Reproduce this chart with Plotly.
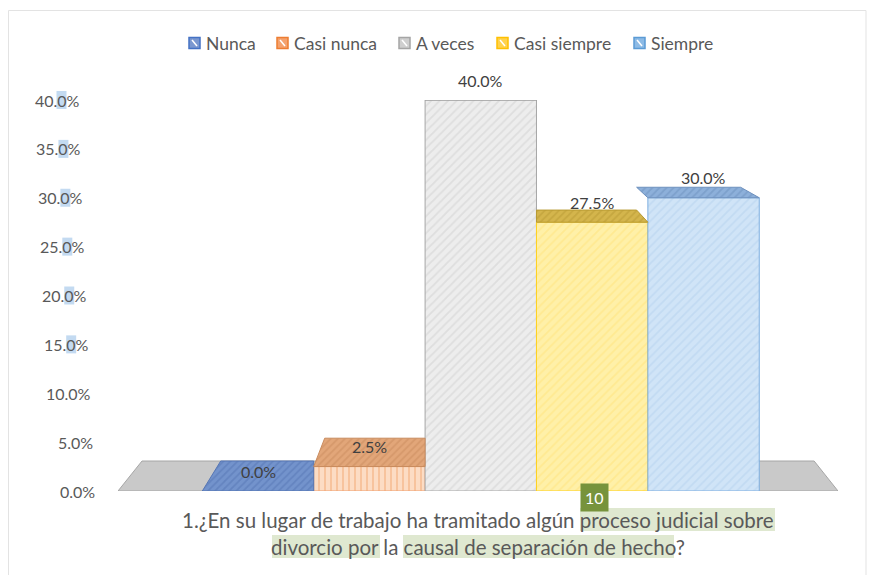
import plotly.graph_objects as go

# ---- data ----
categories = ["Nunca", "Casi nunca", "A veces", "Casi siempre", "Siempre"]
values = [0.0, 0.025, 0.40, 0.275, 0.30]
value_labels = ["0.0%", "2.5%", "40.0%", "27.5%", "30.0%"]
y_ticks = [0.0, 0.05, 0.10, 0.15, 0.20, 0.25, 0.30, 0.35, 0.40]
y_tick_labels = ["0.0%", "5.0%", "10.0%", "15.0%", "20.0%", "25.0%", "30.0%", "35.0%", "40.0%"]
question_line1 = "1.¿En su lugar de trabajo ha tramitado algún proceso judicial sobre"
question_line2 = "divorcio por la causal de separación de hecho?"

# ---- style ----
FONT = "Lato"
TXT = "#595959"
front_bg = ["#6f8fc8", "#fcdcc4", "#ededed", "#fff0a8", "#d0e4f7"]
front_fg = ["#4a6fb0", "#f2a46c", "#cfcfcf", "#ffe27a", "#b3d0ee"]
front_shape = ["/", "|", "/", "/", "/"]
front_line = ["#4a6fb0", "#f0a070", "#a6a6a6", "#ffd21f", "#7eaee0"]
top_bg = ["#7393cc", "#e2a679", "#b5b5b5", "#d4b54c", "#8db0da"]
top_fg = ["#5676b4", "#c98b5e", "#999999", "#b89a33", "#6e91be"]
legend_fill = ["#7b98d0", "#f4a26e", "#cfcfcf", "#ffd24d", "#8dbbe6"]
legend_edge = ["#4472c4", "#ed7d31", "#a5a5a5", "#ffc000", "#5b9bd5"]

X_RANGE = [-1.257, 5.207]
Y_RANGE = [0, 0.40]
VANISH_X, VANISH_Y, DEPTH = 1.984, 0.4614, 0.0665

# page-pixel layout of the plot area (page has an 8px body margin)
PAGE_OFF = 8
PL, PR, PT, PB = 118, 838, 100, 491


def px(xp):
    return (xp - PL) / (PR - PL)


def py(yp):
    return (PB - yp) / (PB - PT)


fig = go.Figure()

# front faces (bars)
for i, (cat, v) in enumerate(zip(categories, values)):
    fig.add_trace(go.Bar(
        x=[i], y=[v], width=1.0, name=cat,
        marker=dict(color=front_bg[i],
                    line=dict(color=front_line[i], width=1),
                    pattern=dict(shape=front_shape[i], fgcolor=front_fg[i],
                                 bgcolor=front_bg[i], size=6, solidity=0.3)),
        hoverinfo="skip", showlegend=False,
    ))

# top faces (perspective)
n = len(values)
for i, v in enumerate(values):
    xl, xr = i - 0.5, i + 0.5
    bxl = xl + DEPTH * (VANISH_X - xl)
    bxr = xr + DEPTH * (VANISH_X - xr)
    by = v + DEPTH * (VANISH_Y - v)
    if i > 0 and values[i - 1] > v:
        bxl = max(bxl, xl)
    if i < n - 1 and values[i + 1] > v:
        bxr = min(bxr, xr)
    fig.add_trace(go.Scatter(
        x=[xl, xr, bxr, bxl, xl], y=[v, v, by, by, v],
        mode="lines", fill="toself", fillcolor=top_bg[i],
        fillpattern=dict(shape="/", fgcolor=top_fg[i], bgcolor=top_bg[i],
                         size=5, solidity=0.35),
        line=dict(color=top_fg[i], width=1),
        hoverinfo="skip", showlegend=False,
    ))

# floor
fx0, fx1 = X_RANGE
fby = DEPTH * VANISH_Y
bfx0 = fx0 + DEPTH * (VANISH_X - fx0)
bfx1 = fx1 + DEPTH * (VANISH_X - fx1)
fig.add_shape(type="path", xref="x", yref="y", layer="below",
              path=f"M {fx0},0 L {fx1},0 L {bfx1},{fby} L {bfx0},{fby} Z",
              fillcolor="#c9c9c9", line=dict(color="#a6a6a6", width=1))

# faint chart frame
fig.add_shape(type="rect", xref="paper", yref="paper", layer="below",
              x0=px(8.5), x1=px(866), y0=py(580), y1=py(10.5),
              fillcolor="rgba(0,0,0,0)", line=dict(color="#e3e3e3", width=1))

# value labels
for i, (v, lab) in enumerate(zip(values, value_labels)):
    fig.add_annotation(x=i, y=v, text=lab, showarrow=False, yshift=20,
                       yanchor="middle", font=dict(family=FONT, size=16, color="#404040"))

# y tick labels, drifting right toward the bottom (perspective), "0" highlighted
for v, lab in zip(y_ticks, y_tick_labels):
    right = 97 - 15.5 * (v / Y_RANGE[1])
    yc = PB - (PB - PT) * v / Y_RANGE[1]
    if v >= 0.15:
        fig.add_shape(type="rect", xref="paper", yref="paper", layer="below",
                      x0=px(right - 25), x1=px(right - 15),
                      y0=py(yc + 9), y1=py(yc - 9),
                      fillcolor="#c3daf1", line=dict(width=0))
    fig.add_annotation(xref="paper", yref="y", x=px(right), y=v, text=lab,
                       xanchor="right", yanchor="middle", showarrow=False,
                       font=dict(family=FONT, size=16, color=TXT))

# custom legend (swatch + text)
legend_x = [189, 277, 399, 497, 634]
for i, cat in enumerate(categories):
    x0 = legend_x[i]
    fig.add_shape(type="rect", xref="paper", yref="paper",
                  x0=px(x0), x1=px(x0 + 11), y0=py(48.5), y1=py(37.5),
                  fillcolor=legend_fill[i], line=dict(color=legend_edge[i], width=1.5))
    fig.add_shape(type="line", xref="paper", yref="paper",
                  x0=px(x0 + 3), x1=px(x0 + 8), y0=py(40), y1=py(46),
                  line=dict(color="white", width=1.5))
    fig.add_annotation(xref="paper", yref="paper", x=px(x0 + 15), y=py(43),
                       xanchor="left", yanchor="middle", text=cat, showarrow=False,
                       font=dict(family=FONT, size=17.5, color=TXT))

# highlight boxes behind parts of the question
for (a, b, t, btm) in [(580, 775, 508, 531), (272, 380, 535, 558), (403, 674, 535, 558)]:
    fig.add_shape(type="rect", xref="paper", yref="paper", layer="below",
                  x0=px(a), x1=px(b), y0=py(btm), y1=py(t),
                  fillcolor="#dfe8d0", line=dict(width=0))

# question (axis title)
fig.add_annotation(xref="paper", yref="paper", x=px(478), y=py(520),
                   text=question_line1, showarrow=False, yanchor="middle",
                   font=dict(family=FONT, size=20.5, color=TXT))
fig.add_annotation(xref="paper", yref="paper", x=px(478), y=py(547),
                   text=question_line2, showarrow=False, yanchor="middle",
                   font=dict(family=FONT, size=20.5, color=TXT))
# page badge
fig.add_annotation(xref="paper", yref="paper", x=px(594), y=py(497),
                   text="10", showarrow=False, bgcolor="#77933c", borderpad=4,
                   xanchor="center", yanchor="middle",
                   font=dict(family=FONT, size=16, color="white"))

fig.update_layout(
    width=875, height=575,
    margin=dict(l=PL - PAGE_OFF, r=875 - (PR - PAGE_OFF), t=PT - PAGE_OFF,
                b=575 - (PB - PAGE_OFF)),
    paper_bgcolor="white", plot_bgcolor="rgba(0,0,0,0)",
    barmode="overlay", showlegend=False,
    font=dict(family=FONT, color=TXT),
    xaxis=dict(range=X_RANGE, showticklabels=False, showgrid=False,
               zeroline=False, showline=False, ticks=""),
    yaxis=dict(range=Y_RANGE, tickvals=y_ticks, showticklabels=False, showgrid=False,
               zeroline=False, showline=False, ticks=""),
)

fig.write_html("out.html")
